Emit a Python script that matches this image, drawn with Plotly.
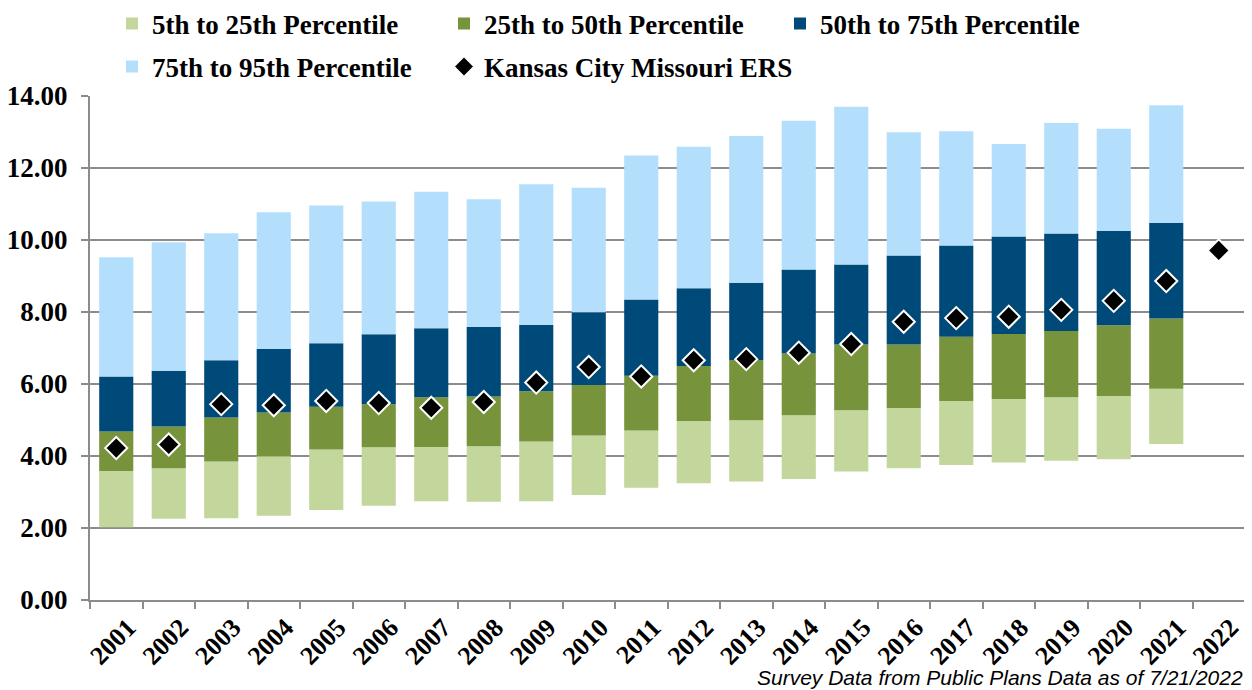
import plotly.graph_objects as go

years = [str(y) for y in range(2001, 2023)]

# Percentile bounds (2001-2021); 2022 has no survey bars
p5 = [2.02, 2.26, 2.27, 2.34, 2.50, 2.62, 2.74, 2.73, 2.74, 2.92, 3.12, 3.24, 3.29, 3.36, 3.57, 3.66, 3.75, 3.82, 3.87, 3.91, 4.33, None]
p25 = [3.58, 3.66, 3.85, 3.99, 4.18, 4.24, 4.25, 4.27, 4.40, 4.57, 4.71, 4.97, 4.99, 5.13, 5.27, 5.33, 5.53, 5.58, 5.63, 5.67, 5.87, None]
p50 = [4.68, 4.82, 5.07, 5.21, 5.37, 5.44, 5.63, 5.65, 5.80, 5.97, 6.23, 6.50, 6.67, 6.85, 7.10, 7.10, 7.31, 7.39, 7.47, 7.63, 7.82, None]
p75 = [6.21, 6.37, 6.66, 6.97, 7.13, 7.38, 7.55, 7.58, 7.64, 7.99, 8.35, 8.66, 8.81, 9.18, 9.32, 9.57, 9.85, 10.10, 10.18, 10.25, 10.47, None]
p95 = [9.52, 9.94, 10.19, 10.77, 10.96, 11.07, 11.34, 11.13, 11.55, 11.45, 12.35, 12.59, 12.89, 13.31, 13.70, 12.99, 13.02, 12.67, 13.25, 13.09, 13.74, None]
kc_ers = [4.22, 4.32, 5.44, 5.41, 5.53, 5.47, 5.34, 5.50, 6.04, 6.47, 6.21, 6.66, 6.69, 6.87, 7.11, 7.73, 7.83, 7.87, 8.06, 8.31, 8.86, 9.71]

series_names = ["5th to 25th Percentile", "25th to 50th Percentile",
                "50th to 75th Percentile", "75th to 95th Percentile"]
series_colors = ["#C3D69B", "#77933C", "#004A7A", "#B3DFFD"]
bounds = [p5, p25, p50, p75, p95]


def diff(hi, lo):
    return [None if (h is None or l is None) else h - l for h, l in zip(hi, lo)]


# The page body has an 8px default margin, so the figure is 8px smaller
W, H = 1244, 682
serif = "Liberation Serif, Times New Roman, serif"
fig = go.Figure()

legend_ids = ["legend", "legend2", "legend3", "legend4", "legend5"]
for i, (name, color) in enumerate(zip(series_names, series_colors)):
    fig.add_trace(go.Bar(
        x=years, y=diff(bounds[i + 1], bounds[i]), base=bounds[i],
        name=name, marker=dict(color=color, line=dict(width=0)),
        legend=legend_ids[i],
    ))

fig.add_trace(go.Scatter(
    x=years, y=kc_ers, mode="markers", name="Kansas City Missouri ERS",
    marker=dict(symbol="diamond", size=17, color="black",
                line=dict(color="white", width=2)),
    legend=legend_ids[4],
))

grid = "#8C8C8C"
legend_common = dict(
    orientation="h", xanchor="left", yanchor="middle",
    xref="container", yref="container",
    font=dict(family=serif, size=27, color="black", weight="bold"),
    itemwidth=30, bgcolor="rgba(0,0,0,0)",
)
lx = 104 / W
col = 332 / W
row1 = 1 - 16 / H
row2 = 1 - 59 / H

fig.update_layout(
    width=W, height=H,
    margin=dict(l=82, r=7, t=88, b=90, autoexpand=False),
    paper_bgcolor="white", plot_bgcolor="white",
    barmode="overlay", bargap=0.35,
    showlegend=True,
    legend=dict(x=lx, y=row1, **legend_common),
    legend2=dict(x=lx + col, y=row1, **legend_common),
    legend3=dict(x=lx + 2 * col + 4 / W, y=row1, **legend_common),
    legend4=dict(x=lx, y=row2, **legend_common),
    legend5=dict(x=lx + col, y=row2, **legend_common),
    font=dict(family=serif, color="black"),
    xaxis=dict(
        type="category", categoryorder="array", categoryarray=years,
        range=[-0.5, len(years) - 0.5], autorange=False,
        tickangle=-45, tickson="boundaries", ticks="outside", ticklen=7,
        tickcolor=grid, tickwidth=2, showline=True, linecolor=grid, linewidth=2,
        showgrid=False, automargin=False, ticklabelshift=12,
        tickfont=dict(family=serif, size=26, color="black", weight="bold"),
    ),
    yaxis=dict(
        range=[0, 14], dtick=2, tickformat=".2f", showgrid=True, gridcolor=grid,
        gridwidth=2, showline=True, linecolor=grid, linewidth=2, ticks="outside",
        ticklen=7, tickcolor=grid, tickwidth=2, zeroline=False, automargin=False,
        ticklabelstandoff=8,
        tickfont=dict(family=serif, size=27, color="black", weight="bold"),
    ),
    annotations=[dict(
        text="Survey Data from Public Plans Data as of 7/21/2022",
        xref="paper", yref="paper", x=1.0, y=-0.153, xanchor="right", yanchor="middle",
        showarrow=False,
        font=dict(family="Liberation Sans, Arial, sans-serif", size=21, color="black", style="italic"),
    )],
)

fig.write_html("out.html")
